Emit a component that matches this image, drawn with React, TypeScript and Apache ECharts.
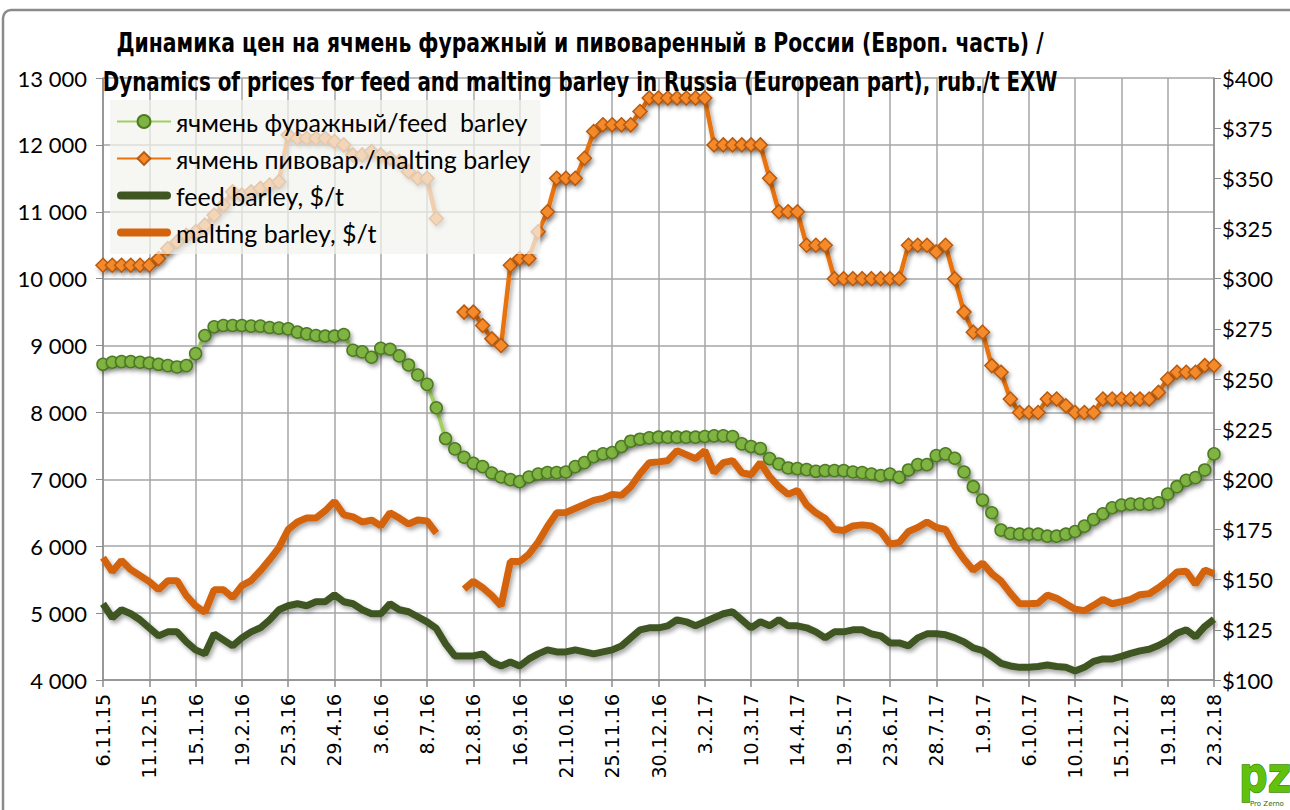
import React, { useEffect, useRef } from "react";
import * as echarts from "echarts";

// ---- data ----
const startDate = [2015, 10, 6]; // 6.11.15, weekly points
const weekCount = 121;
const tickLabels = ["6.11.15","11.12.15","15.1.16","19.2.16","25.3.16","29.4.16","3.6.16","8.7.16","12.8.16","16.9.16","21.10.16","25.11.16","30.12.16","3.2.17","10.3.17","14.4.17","19.5.17","23.6.17","28.7.17","1.9.17","6.10.17","10.11.17","15.12.17","19.1.18","23.2.18"];

const categories: string[] = [];
for (let i = 0; i < weekCount; i++) {
  const d = new Date(startDate[0], startDate[1], startDate[2] + 7 * i);
  categories.push(`${d.getDate()}.${d.getMonth() + 1}.${String(d.getFullYear()).slice(2)}`);
}

const feedRub = [8720,8750,8760,8760,8750,8740,8720,8700,8680,8700,
8880,9150,9280,9300,9300,9300,9290,9290,9270,9260,
9250,9200,9175,9150,9140,9140,9165,8930,8905,8825,
8960,8945,8845,8710,8560,8420,8070,7610,7455,7330,
7240,7190,7095,7035,6995,6965,7035,7080,7100,7100,
7110,7190,7250,7340,7380,7400,7490,7570,7600,7620,
7630,7630,7630,7630,7630,7640,7650,7650,7640,7530,
7490,7460,7310,7230,7170,7160,7145,7120,7130,7130,
7130,7110,7100,7080,7055,7080,7030,7140,7220,7220,
7355,7380,7315,7110,6890,6690,6500,6240,6190,6180,
6180,6180,6150,6150,6180,6220,6300,6400,6485,6575,
6615,6630,6630,6630,6650,6780,6890,6985,7025,7140,
7380];

const maltRub = [10200,10200,10200,10200,10200,10200,10300,10450,10550,10650,
10700,10800,10950,11100,11300,11250,11300,11350,11400,11450,
12150,12100,12100,12100,12100,12050,12000,11850,11850,11900,
11850,11800,11750,11600,11500,11500,10900,null,null,9500,
9500,9300,9100,9000,10200,10300,10300,10700,11000,11500,
11500,11500,11800,12200,12300,12300,12300,12300,12500,12700,
12700,12700,12700,12700,12700,12700,12000,12000,12000,12000,
12000,12000,11500,11000,11000,11000,10500,10500,10500,10000,
10000,10000,10000,10000,10000,10000,10000,10500,10500,10500,
10400,10500,10000,9500,9200,9200,8700,8600,8200,8000,
8000,8000,8200,8200,8100,8000,8000,8000,8200,8200,
8200,8200,8200,8200,8300,8500,8600,8600,8600,8700,
8700];

const feedUsd = [138,131,135,133,130,126,122,124,124,119,
115,113,123,120,117,121,124,126,130,135,
137,138,137,139,139,142.5,139,138,135,133,
133,138,135,134,131.5,129,125.7,118,112,112,
112,113,109,107,109,107,110.5,113,115,114,
114,115,114,113,114,115,117,121,125,126,
126,127,130,129,127,129,131,133,134,130,
126,129,127,130,127,127,126,124,121,124,
124,125,125,123,122,118.5,118.5,117,121,123,
123,122.5,121,119,116,114.7,111.7,108.3,107,106.3,
106.3,106.7,107.5,106.7,106.3,104.5,106.3,109.3,110.5,110.5,
111.8,113.3,114.5,115.3,117.2,119.7,123.3,125,121.5,126.7,
130.3];

const maltUsd = [161,154,159.5,155,152,149,145,149.5,149.5,142,
137,133.7,145,145,141,147,149.5,154.5,160,166,
175,178.7,180.7,180.7,184.3,189,182.3,181.3,178.7,179.7,
176.8,183.3,180.7,177.7,179.7,179.3,173.2,null,null,145.3,
149.2,146,142,137,159,159,162.7,168.7,176.5,183.3,
183.5,185.5,187.5,189.5,190.5,192.5,192,196.3,202.8,208.3,
208.7,209.3,214.3,212.3,210.3,214.3,203.3,208.3,209.3,203.3,
202.3,208.3,201.3,196.3,192.5,194.5,187.3,183.3,180.5,175,
174.5,176.8,177.3,176.8,174,167.7,168.5,174,176,178.7,
176,175,166.7,160.2,154.7,158.3,153,149.3,143.3,138,
138,138.3,142.3,140.7,138,135.3,134.5,137.2,140.2,138,
139,140.2,142.5,143,146,149.5,153.8,154.2,147.7,154.8,
153];

const seriesNames = [
  "ячмень фуражный/feed  barley",
  "ячмень пивовар./malting barley",
  "feed barley, $/t",
  "malting barley, $/t",
];
const titleLines = [
  "Динамика цен на ячмень фуражный и пивоваренный в России (Европ. часть) /",
  "Dynamics of prices for feed and malting barley in Russia (European part), rub./t EXW",
];
const logoText = "pz";
const logoSubText = "Pro Zerno";

const fmtThousands = (v: number) => String(v).replace(/\B(?=(\d{3})+(?!\d))/g, " ");
const shadow = { shadowColor: "rgba(0,0,0,0.35)", shadowBlur: 4, shadowOffsetX: 2, shadowOffsetY: 3 };
const axisFont = "Lato";
const thickLineIcon = "path://M4,0 H50 A4,4 0 0 1 50,8 H4 A4,4 0 0 1 4,0 Z";
const titleFont = 'bold 26px "DejaVu Sans Condensed", "DejaVu Sans", sans-serif';

export default function App() {
  const ref = useRef<HTMLDivElement>(null);
  useEffect(() => {
    if (!ref.current) return;
    const chart = echarts.init(ref.current, undefined, { renderer: "svg" });
    chart.setOption({
      animation: false,
      backgroundColor: "#ffffff",
      grid: { left: 103, right: 76, top: 78, bottom: 130 },
      legend: {
        orient: "vertical",
        left: 110,
        top: 100,
        itemGap: 12,
        itemWidth: 54,
        itemHeight: 16,
        padding: [9, 10, 9, 6],
        backgroundColor: "rgba(242,242,238,0.72)",
        textStyle: { fontSize: 25, fontFamily: "Lato", color: "#000" },
        data: [
          { name: seriesNames[0] },
          { name: seriesNames[1] },
          { name: seriesNames[2], icon: thickLineIcon },
          { name: seriesNames[3], icon: thickLineIcon },
        ],
        selectedMode: false,
      },
      xAxis: {
        type: "category",
        data: categories,
        boundaryGap: false,
        axisLine: { lineStyle: { color: "#8c8c8c", width: 1.5 } },
        axisTick: { interval: 4, length: 7, lineStyle: { color: "#8c8c8c", width: 1.5 } },
        axisLabel: {
          interval: 4,
          rotate: 90,
          fontSize: 19,
          fontFamily: "DejaVu Sans",
          color: "#000",
          margin: 14,
        },
        splitLine: { show: true, interval: 4, lineStyle: { color: "#a6a6a6", width: 1.5 } },
      },
      yAxis: [
        {
          type: "value",
          min: 4000,
          max: 13000,
          interval: 1000,
          position: "left",
          axisLine: { show: true, lineStyle: { color: "#8c8c8c", width: 1.5 } },
          axisTick: { show: true, length: 7, lineStyle: { color: "#8c8c8c" } },
          axisLabel: { formatter: fmtThousands, fontSize: 22, fontFamily: axisFont, color: "#000", margin: 16 },
          splitLine: { show: true, lineStyle: { color: "#a6a6a6", width: 1.5 } },
        },
        {
          type: "value",
          min: 100,
          max: 400,
          interval: 25,
          position: "right",
          axisLine: { show: true, lineStyle: { color: "#8c8c8c", width: 1.5 } },
          axisTick: { show: true, length: 7, lineStyle: { color: "#8c8c8c" } },
          axisLabel: { formatter: (v: number) => "$" + v, fontSize: 22, fontFamily: axisFont, color: "#000", margin: 8 },
          splitLine: { show: false },
        },
      ],
      series: [
        {
          name: seriesNames[0],
          type: "line",
          yAxisIndex: 0,
          data: feedRub,
          symbol: "circle",
          symbolSize: 12,
          showAllSymbol: true,
          lineStyle: { color: "#a2cf63", width: 4, ...shadow },
          itemStyle: { color: "#7fb443", borderColor: "#4d7a22", borderWidth: 1.5, ...shadow },
          z: 3,
        },
        {
          name: seriesNames[1],
          type: "line",
          yAxisIndex: 0,
          data: maltRub,
          connectNulls: false,
          symbol: "diamond",
          symbolSize: 14,
          showAllSymbol: true,
          lineStyle: { color: "#e8720c", width: 4.5, ...shadow },
          itemStyle: { color: "#f58a2c", borderColor: "#b85a10", borderWidth: 1.5, ...shadow },
          z: 3,
        },
        {
          name: seriesNames[2],
          type: "line",
          yAxisIndex: 1,
          data: feedUsd,
          symbol: "none",
          lineStyle: { color: "#3f5623", width: 7, ...shadow },
          itemStyle: { color: "#3f5623" },
          z: 4,
        },
        {
          name: seriesNames[3],
          type: "line",
          yAxisIndex: 1,
          data: maltUsd,
          connectNulls: false,
          symbol: "none",
          lineStyle: { color: "#d4630c", width: 7, ...shadow },
          itemStyle: { color: "#d4630c" },
          z: 4,
        },
      ],
      graphic: [
        {
          type: "rect",
          z: -10,
          shape: { x: 3, y: 10, width: 1300, height: 820, r: 8 },
          style: { fill: "none", stroke: "#8a8a8a", lineWidth: 2.5 },
        },
        {
          type: "text",
          z: 20,
          x: 580,
          y: 43,
          scaleX: 0.87,
          style: { text: titleLines[0], font: titleFont, align: "center", verticalAlign: "middle", fill: "#000" },
        },
        {
          type: "text",
          z: 20,
          x: 580,
          y: 82,
          scaleX: 0.85,
          style: { text: titleLines[1], font: titleFont, align: "center", verticalAlign: "middle", fill: "#000" },
        },
        {
          type: "text",
          z: 20,
          x: 1239,
          y: 750,
          scaleX: 0.8,
          style: {
            text: logoText,
            font: 'bold 50px "DejaVu Sans", sans-serif',
            fill: "#62c10c",
            stroke: "#3d8a05",
            lineWidth: 1.5,
          },
        },
        {
          type: "text",
          z: 21,
          x: 1250,
          y: 800,
          style: { text: logoSubText, font: '7px "DejaVu Sans", sans-serif', fill: "#2d6a00" },
        },
      ],
    });
    return () => chart.dispose();
  }, []);
  return <div ref={ref} style={{ position: "fixed", left: 0, top: 0, width: 1290, height: 810 }} />;
}
